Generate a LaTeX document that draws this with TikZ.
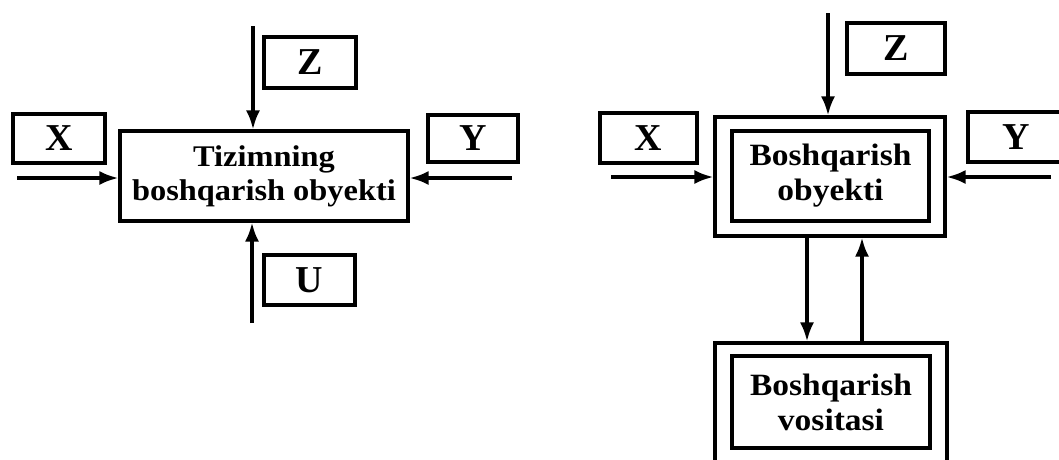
\documentclass[tikz,border=0pt]{standalone}
\usepackage{fontspec}
\setmainfont{Liberation Serif}
\usetikzlibrary{arrows.meta}
\begin{document}
\begin{tikzpicture}[x=1pt,y=-1pt,
  lw/.style={line width=3.2pt},
  blk/.style={draw,lw,inner sep=0pt,align=center,font=\fontsize{30}{34}\selectfont\addfontfeature{FakeStretch=1.08}\bfseries},
  blkr/.style={blk,font=\fontsize{31}{35}\selectfont\addfontfeature{FakeStretch=1.08}\bfseries},
  lbl/.style={draw,lw,inner sep=0pt,font=\fontsize{38}{40}\selectfont\bfseries},
  arr/.style={lw,-{Latex[length=19pt,width=14pt]}}]
\useasboundingbox (0,0) rectangle (1059,459);
\fill[white] (0,0) rectangle (1059,459);
% ---------- left diagram ----------
\node[blk,minimum width=288pt,minimum height=90pt] (main) at (264,176) {Tizimning\\boshqarish obyekti};
\node[lbl,minimum width=92pt,minimum height=51pt] (zl) at (310,62.5) {Z};
\node[lbl,minimum width=92pt,minimum height=49pt] (xl) at (59,138.5) {X};
\node[lbl,minimum width=90pt,minimum height=47pt] (yl) at (473,138.5) {Y};
\node[lbl,minimum width=91pt,minimum height=50pt] (ul) at (309.5,280) {U};
\coordinate (zls) at (253,26);
\coordinate (xls) at (17,178);
\coordinate (yls) at (512,178);
\coordinate (uls) at (252,323);
\draw[arr] (zls) -- (zls |- main.north);
\draw[arr] (xls) -- (xls -| main.west);
\draw[arr] (yls) -- (yls -| main.east);
\draw[arr] (uls) -- (uls |- main.south);
% ---------- right diagram ----------
\node[draw,lw,minimum width=230pt,minimum height=119pt] (obj) at (830,176.5) {};
\node[blkr,minimum width=197pt,minimum height=90pt] (objin) at (830.5,176) {Boshqarish\\obyekti};
\node[lbl,minimum width=98pt,minimum height=51pt] (zr) at (896,48.5) {Z};
\node[lbl,minimum width=97pt,minimum height=50pt] (xr) at (648.5,138) {X};
\node[lbl,minimum width=97pt,minimum height=50pt] (yr) at (1016.5,137) {Y};
\node[draw,lw,minimum width=232pt,minimum height=126pt] (tool) at (831,406) {};
\node[blkr,minimum width=198pt,minimum height=92pt] (toolin) at (831,402) {Boshqarish\\vositasi};
\coordinate (zrs) at (828,13);
\coordinate (xrs) at (611,177);
\coordinate (yrs) at (1051,177);
\coordinate (dn) at (807,0);
\coordinate (up) at (862,0);
\draw[arr] (zrs) -- (zrs |- obj.north);
\draw[arr] (xrs) -- (xrs -| obj.west);
\draw[arr] (yrs) -- (yrs -| obj.east);
\draw[arr] (dn |- obj.south) -- (dn |- tool.north);
\draw[arr] (up |- tool.north) -- (up |- obj.south);
\end{tikzpicture}
\end{document}
